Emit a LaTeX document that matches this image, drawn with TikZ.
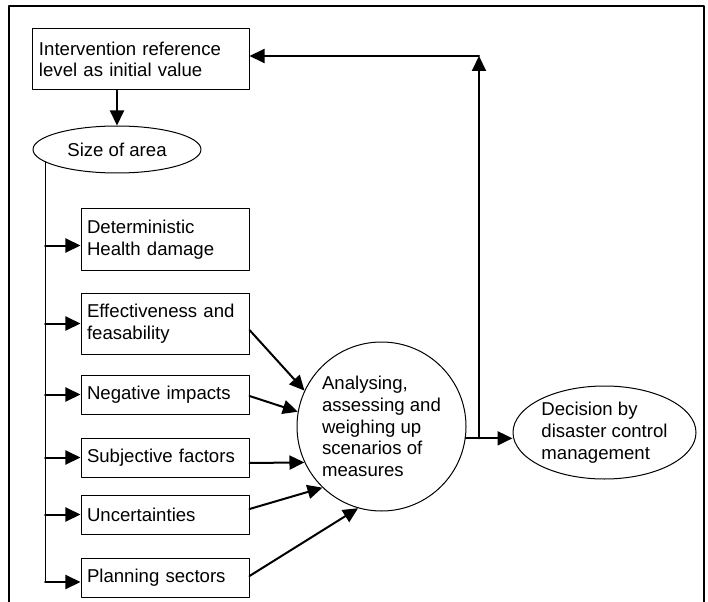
\documentclass[tikz,border=0pt]{standalone}
\usepackage{fontspec}
\setmainfont{Liberation Sans}
\usetikzlibrary{arrows.meta,shapes.geometric}

\begin{document}
\begin{tikzpicture}[x=1bp, y=-1bp, line cap=round, line join=round,
  txt/.style={font={\fontsize{18.6bp}{21.7bp}\selectfont}},
  box/.style={txt, draw, line width=1bp, inner xsep=6bp, inner ysep=0pt,
    align=left, text width=156bp, minimum width=168bp},
  oval/.style={txt, draw, line width=1bp, inner sep=0pt, align=left},
  arr/.style={line width=2bp, -{Triangle[length=15bp,width=14bp]}}]

% Frame
\useasboundingbox (0,0) rectangle (708,602);
\draw[line width=1.2bp] (9,602) -- (9,6) -- (704,6) -- (704,602);

% Initial value and area
\node[box, text width=204bp, minimum width=216bp, minimum height=61bp] (ref) at (141,59.5)
  {Intervention reference\\level as initial value};
\node[oval, ellipse, minimum width=168bp, minimum height=47bp] (area) at (117,149.5) {Size of area};
\draw[arr] (ref.south -| area.north) -- (area.north);

% Criteria
\node[box, minimum height=61bp] (det) at (165,239.5) {Deterministic\\Health damage};
\node[box, minimum height=61bp] (eff) at (165,323.5) {Effectiveness and\\feasability};
\node[box, minimum height=39bp] (neg) at (165,394.5) {Negative impacts};
\node[box, minimum height=39bp] (sub) at (165,457.5) {Subjective factors};
\node[box, minimum height=39bp] (unc) at (165,514.5) {Uncertainties};
\node[box, minimum height=39bp] (pla) at (165,577.5) {Planning sectors};

% Trunk from the area to the criteria
\coordinate (trunk) at (area.190);
\coordinate (tend) at ([yshift=-4.5bp]pla.west);
\draw[line width=1bp] (trunk) -- (trunk |- tend);
\foreach \n/\dy in {det/-6, eff/0, neg/0, sub/0, unc/0, pla/-4.5} {
  \coordinate (t\n) at ([yshift=\dy bp]\n.west);
  \draw[arr] (t\n -| trunk) -- (t\n);
}

% Weighing up
\node[oval, circle, minimum size=169bp] (an) at (381.5,426.5)
  {Analysing,\\assessing and\\weighing up\\scenarios of\\measures};
\foreach \n/\dy/\a in {eff/-6.5/155, neg/-1.5/170, sub/-5.5/205, unc/5.5/226, pla/1.5/254}
  \draw[arr] ([yshift=\dy bp]\n.east) -- (an.\a);

% Decision and feedback
\node[oval, ellipse, minimum width=183bp, minimum height=93bp] (dec) at (604.5,432.5)
  {Decision by\\disaster control\\management};
\draw[arr] (an.-8) -- (an.-8 -| dec.west);
\coordinate (top) at (479,56);
\draw[arr] (top |- an.-8) -- (top);
\draw[arr] (top) -- (top -| ref.east);
\end{tikzpicture}
\end{document}
